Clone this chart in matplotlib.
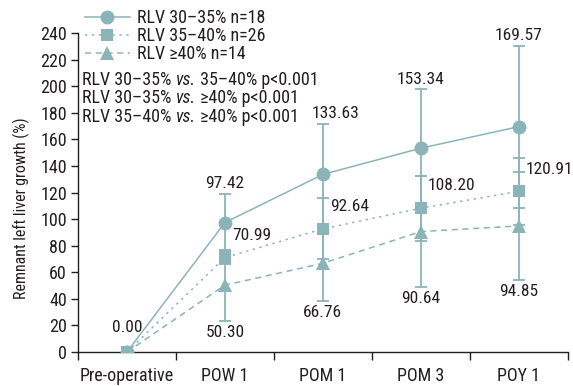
import numpy as np
import matplotlib.pyplot as plt
from matplotlib.lines import Line2D

plt.rcParams['font.family'] = ['Liberation Sans Narrow', 'Roboto Condensed',
                               'Noto Sans', 'DejaVu Sans']
plt.rcParams['font.stretch'] = 'condensed'

STAGES = ['Pre-operative', 'POW 1', 'POM 1', 'POM 3', 'POY 1']

MEAN_A = np.array([0.0, 97.42, 133.63, 153.34, 169.57])   # RLV 30-35%
SD_A = np.array([0.0, 21.5, 38.0, 44.3, 60.9])
MEAN_B = np.array([0.0, 70.99, 92.64, 108.20, 120.91])    # RLV 35-40%
SD_B = np.array([0.0, 5.0, 23.0, 24.5, 25.3])
MEAN_C = np.array([0.0, 50.30, 66.76, 90.64, 94.85])      # RLV >=40%
SD_C = np.array([0.0, 26.8, 28.4, 41.7, 40.4])

LEGEND = ['RLV 30\u201335% n=18', 'RLV 35\u201340% n=26', 'RLV \u226540% n=14']
PVALUES = [('RLV 30\u201335% ', 'vs.', ' 35\u201340% p<0.001'),
           ('RLV 30\u201335% ', 'vs.', ' \u226540% p<0.001'),
           ('RLV 35\u201340% ', 'vs.', ' \u226540% p<0.001')]

COLOR = '#8BB4B9'
TXT = '#231f20'
FS = 13
VFS = 12.5
# sideways nudge (points) of the top labels, so they clear the p-value notes
TOP_DX = [0, 0, 9, 0, 0]

fig = plt.figure(figsize=(5.73, 3.86), dpi=100)
ax = fig.add_axes([0.136, 0.088, 0.855, 0.8265])

x = np.arange(len(STAGES))
series = [(MEAN_A, SD_A, 'o', '-', 10, 3),
          (MEAN_B, SD_B, 's', (0, (1.5, 3)), 9, 4),
          (MEAN_C, SD_C, '^', (0, (4, 3)), 9.5, 2)]
for mean, sd, mk, ls, ms, z in series:
    ax.errorbar(x[1:], mean[1:], yerr=sd[1:], fmt='none', ecolor=COLOR,
                elinewidth=1.3, capsize=4.5, capthick=1.3, zorder=1)
    ax.plot(x, mean, color=COLOR, linestyle=ls, linewidth=1.1,
            marker=mk, markersize=ms, markeredgewidth=0, zorder=z)

# value labels
ax.annotate('0.00', (0, 0), xytext=(0, 18), textcoords='offset points',
            ha='center', va='center', fontsize=VFS, color=TXT)
for i in x[1:]:
    ax.annotate(f'{MEAN_A[i]:.2f}', (i, MEAN_A[i] + SD_A[i]),
                xytext=(TOP_DX[i], 2), textcoords='offset points',
                ha='center', va='bottom', fontsize=VFS, color=TXT)
    ax.annotate(f'{MEAN_B[i]:.2f}', (i, MEAN_B[i]), xytext=(5, 16),
                textcoords='offset points', ha='left', va='center',
                fontsize=VFS, color=TXT)
    ax.annotate(f'{MEAN_C[i]:.2f}', (i, MEAN_C[i] - SD_C[i]), xytext=(0, -3),
                textcoords='offset points', ha='center', va='top',
                fontsize=VFS, color=TXT)

ax.set_xlim(-0.5, len(STAGES) - 0.5)
ax.set_ylim(0, 240)
ax.set_yticks(np.arange(0, 241, 20))
ax.set_xticks(x)
ax.set_xticklabels(STAGES)
ax.set_xticks(np.arange(-0.5, len(STAGES)), minor=True)
ax.tick_params(axis='x', which='major', length=0, pad=11)
ax.tick_params(axis='x', which='minor', length=6, width=1, color=TXT)
ax.tick_params(axis='y', length=5, width=1, color=TXT, pad=3)
ax.tick_params(labelsize=FS, labelcolor=TXT)
for side in ['top', 'right']:
    ax.spines[side].set_visible(False)
for side in ['left', 'bottom']:
    ax.spines[side].set_color(TXT)
    ax.spines[side].set_linewidth(1)
ax.set_ylabel('Remnant left liver growth (%)', fontsize=11.5, color=TXT)
ax.yaxis.set_label_coords(-0.098, 0.45)

handles = [Line2D([], [], color=COLOR, linestyle=s[3], linewidth=1.1,
                  marker=s[2], markersize=s[4], markeredgewidth=0)
           for s in series]
fig.legend(handles, LEGEND, loc='upper left', bbox_to_anchor=(0.135, 0.995),
           frameon=False, fontsize=FS, handlelength=2.5, handletextpad=0.4,
           labelspacing=0.0, borderaxespad=0, labelcolor=TXT)

# p-value notes with italic "vs."
for k, (a, b, c) in enumerate(PVALUES):
    y = 0.792 - k * 0.047
    t1 = fig.text(0.143, y, a, fontsize=FS, color=TXT, va='center')
    t2 = ax.annotate(b, xy=(1, 0), xycoords=t1, va='bottom', fontsize=FS,
                     color=TXT, style='italic')
    ax.annotate(c, xy=(1, 0), xycoords=t2, va='bottom', fontsize=FS, color=TXT)

fig.savefig('out.png', dpi=100)
